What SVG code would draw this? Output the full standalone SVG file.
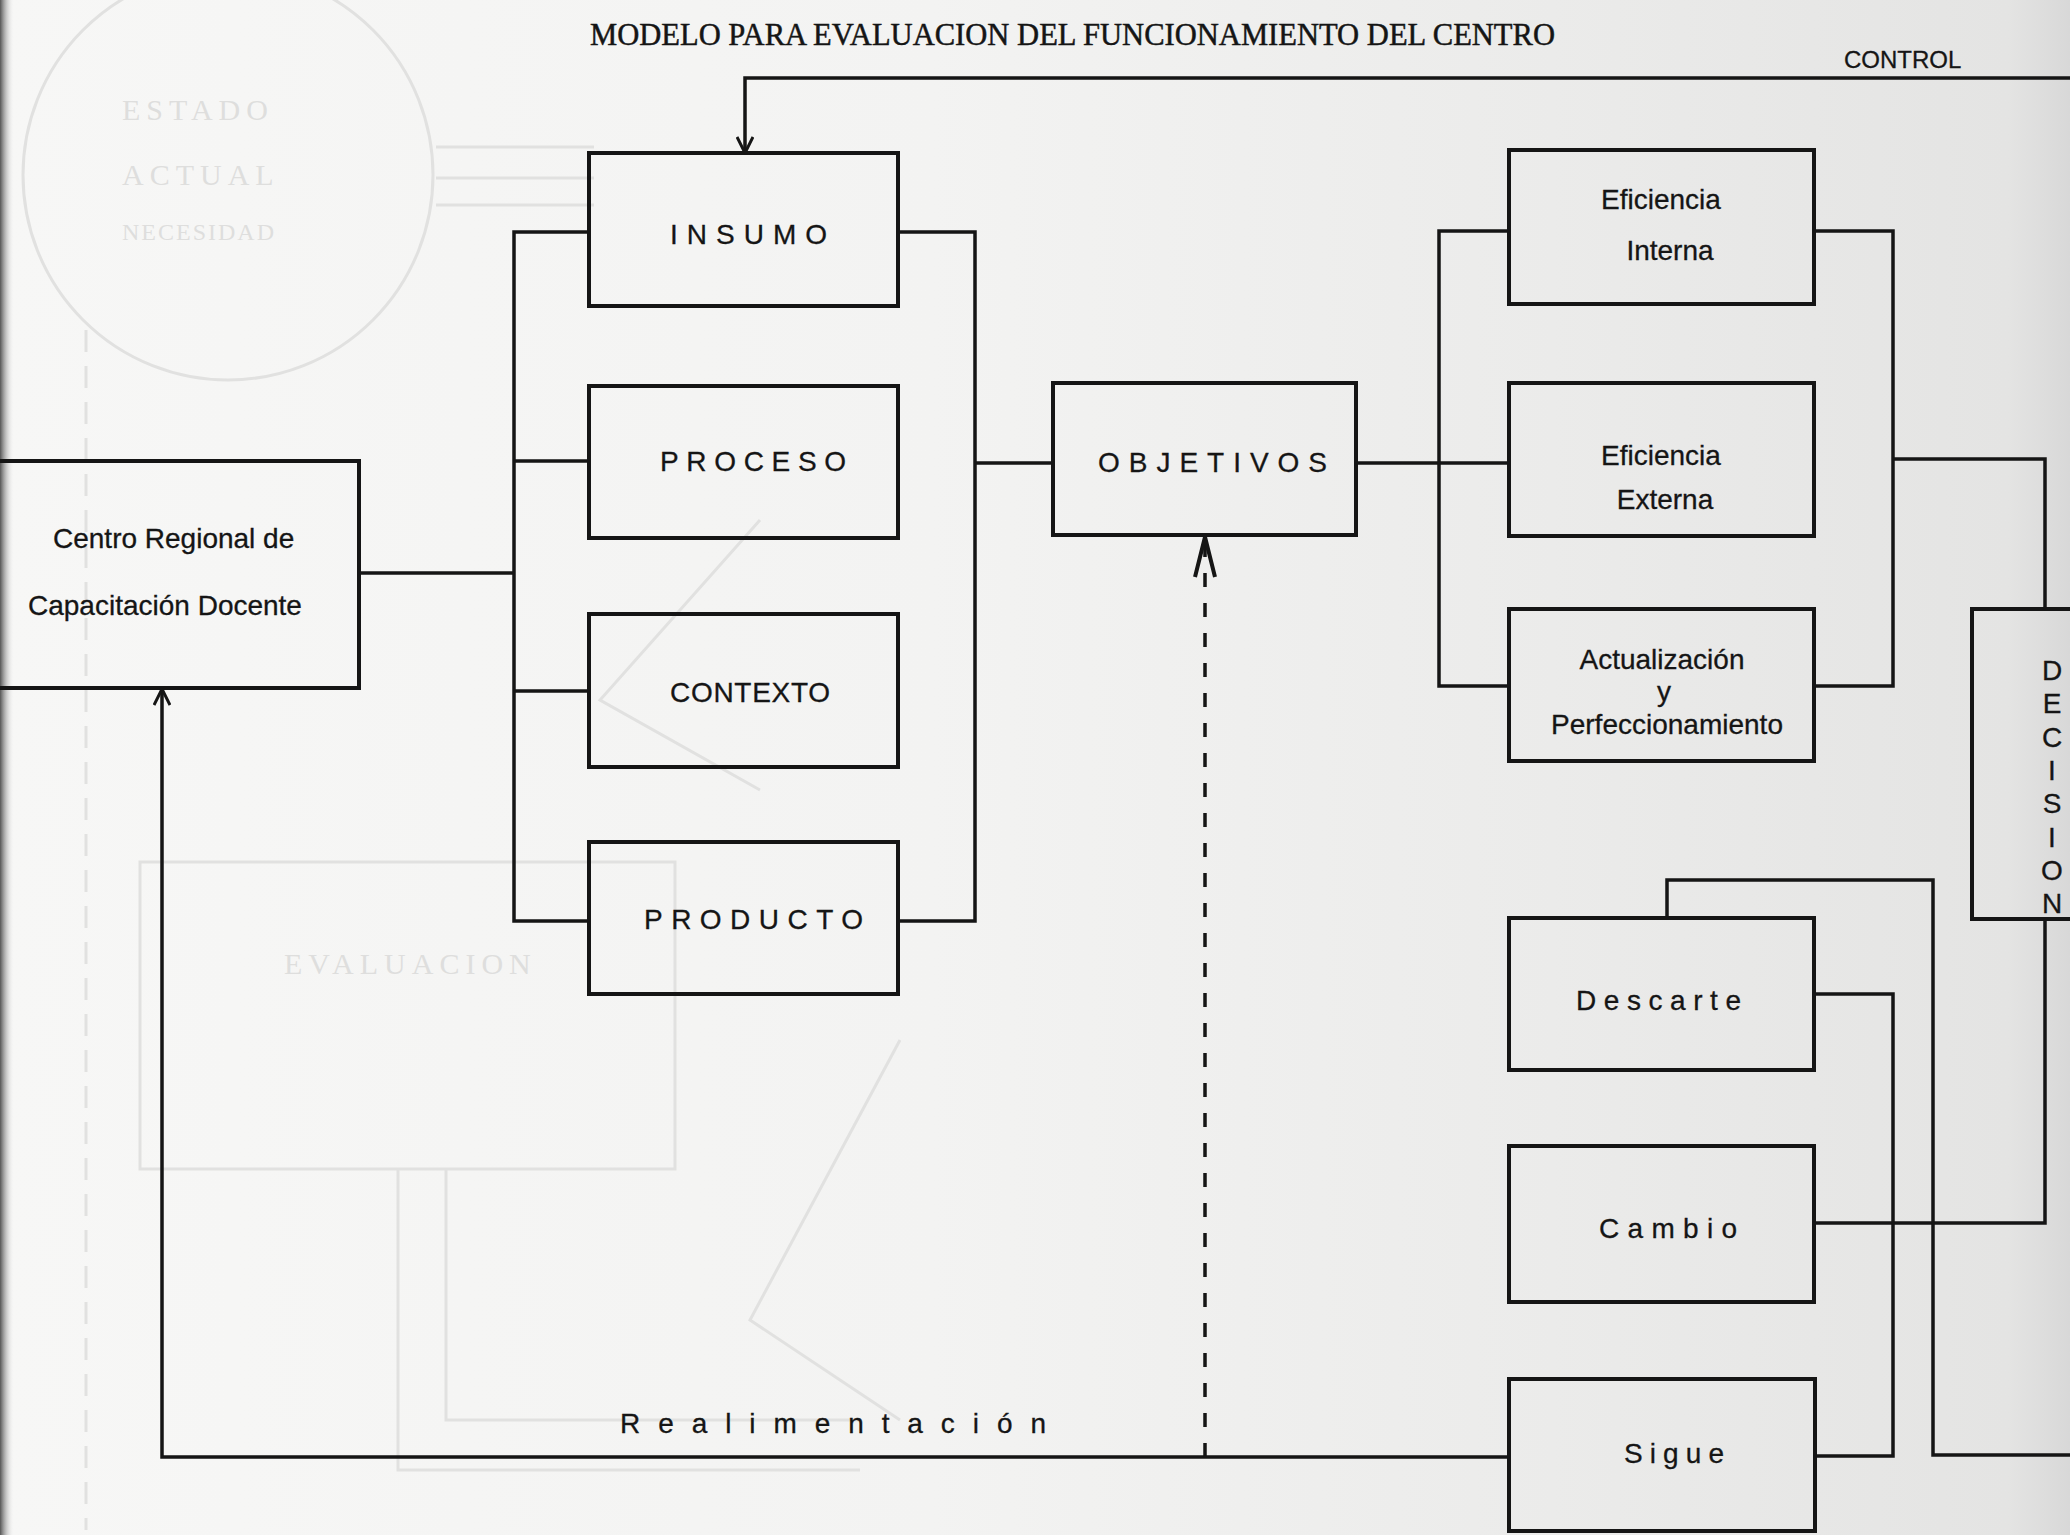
<svg xmlns="http://www.w3.org/2000/svg" width="2070" height="1535" viewBox="0 0 2070 1535">
<defs>
  <linearGradient id="paper" x1="0" y1="0" x2="1" y2="0">
    <stop offset="0" stop-color="#f7f7f6"/>
    <stop offset="0.45" stop-color="#f3f3f2"/>
    <stop offset="0.75" stop-color="#ebebea"/>
    <stop offset="0.97" stop-color="#e4e4e3"/>
    <stop offset="1" stop-color="#d8d8d8"/>
  </linearGradient>
  <linearGradient id="spine" x1="0" y1="0" x2="1" y2="0">
    <stop offset="0" stop-color="#555"/>
    <stop offset="1" stop-color="#f4f4f4" stop-opacity="0"/>
  </linearGradient>
  <marker id="arrS" viewBox="0 0 18 18" refX="17" refY="9" markerWidth="18" markerHeight="18" markerUnits="userSpaceOnUse" orient="auto">
    <path d="M1,1 L17,9 L1,17" fill="none" stroke="#151515" stroke-width="3" stroke-dasharray="none"/>
  </marker>
  <marker id="arrL" viewBox="0 0 42 24" refX="41" refY="12" markerWidth="42" markerHeight="24" markerUnits="userSpaceOnUse" orient="auto">
    <path d="M1,2 L41,12 L1,22" fill="none" stroke="#151515" stroke-width="4" stroke-dasharray="none"/>
  </marker>
</defs>
<style>
  .box { fill: none; stroke: #151515; stroke-width: 4; }
  .ln { fill: none; stroke: #151515; stroke-width: 3.5; }
  .t { font-family: "Liberation Sans", Arial, sans-serif; font-size: 28px; fill: #151515; stroke: #151515; stroke-width: 0.3; }
  .c { text-anchor: middle; }
  .ghost { fill: none; stroke: #e1e1e0; stroke-width: 3; }
  .gt { font-family: "Liberation Serif", "Times New Roman", serif; font-size: 30px; fill: #dededd; letter-spacing: 6px; }
</style>

<rect x="0" y="0" width="2070" height="1535" fill="url(#paper)"/>
<rect x="0" y="0" width="14" height="1535" fill="url(#spine)"/>

<g id="ghost">
  <circle class="ghost" cx="228" cy="175" r="205"/>
  <text class="gt" x="122" y="120">ESTADO</text>
  <text class="gt" x="122" y="185">ACTUAL</text>
  <text class="gt" x="122" y="240" style="font-size:24px;letter-spacing:2px">NECESIDAD</text>
  <path class="ghost" d="M436,147 H594 M436,178 H594 M436,205 H594"/>
  <rect class="ghost" x="140" y="862" width="535" height="307"/>
  <text class="gt" x="284" y="974">EVALUACION</text>
  <path class="ghost" d="M398,1169 V1470 H860 M446,1169 V1420 H860"/>
  <path class="ghost" d="M86,330 V1530" stroke-dasharray="22 14"/>
  <path class="ghost" d="M760,520 L600,700 L760,790 M900,1040 L750,1320 L900,1420" stroke="#e6e6e5"/>
</g>

<g id="title">
  <text x="590" y="45" font-family="Liberation Serif, 'Times New Roman', serif" font-size="32" fill="#151515" stroke="#151515" stroke-width="0.5" textLength="965" lengthAdjust="spacingAndGlyphs">MODELO PARA EVALUACION DEL FUNCIONAMIENTO DEL CENTRO</text>
</g>

<g id="connectors">
  <path class="ln" d="M2070,78 H745 V153" marker-end="url(#arrS)"/>
  <text class="t" x="1844" y="68" style="font-size:24px">CONTROL</text>
  <path class="ln" d="M359,573 H514"/>
  <path class="ln" d="M589,232 H514 V921 H589 M514,461 H589 M514,691 H589"/>
  <path class="ln" d="M898,232 H975 V921 H898 M975,463 H1053"/>
  <path class="ln" d="M1356,463 H1509"/>
  <path class="ln" d="M1509,231 H1439 V686 H1509"/>
  <path class="ln" d="M1814,231 H1893 V686 H1814"/>
  <path class="ln" d="M1893,459 H2045 V609"/>
  <path class="ln" d="M2045,919 V1223 H1814"/>
  <path class="ln" d="M1667,918 V880 H1933 V1455 H2070"/>
  <path class="ln" d="M1814,994 H1893 V1456 H1814"/>
  <path class="ln" d="M1509,1457 H162 V689" marker-end="url(#arrS)"/>
  <path class="ln" d="M1205,1457 V537" stroke-dasharray="14 16" marker-end="url(#arrL)"/>
  <text class="t" x="620" y="1433" textLength="426" lengthAdjust="spacing">Realimentación</text>
</g>

<g id="centro">
  <path class="box" d="M0,461 H359 V688 H0"/>
  <text class="t" x="53" y="548">Centro Regional de</text>
  <text class="t" x="28" y="615">Capacitación Docente</text>
</g>

<g id="insumo">
  <rect class="box" x="589" y="153" width="309" height="153"/>
  <text class="t" x="670" y="244" textLength="157" lengthAdjust="spacing">INSUMO</text>
</g>
<g id="proceso">
  <rect class="box" x="589" y="386" width="309" height="152"/>
  <text class="t" x="660" y="471" textLength="186" lengthAdjust="spacing">PROCESO</text>
</g>
<g id="contexto">
  <rect class="box" x="589" y="614" width="309" height="153"/>
  <text class="t" x="670" y="702" textLength="160" lengthAdjust="spacing">CONTEXTO</text>
</g>
<g id="producto">
  <rect class="box" x="589" y="842" width="309" height="152"/>
  <text class="t" x="644" y="929" textLength="219" lengthAdjust="spacing">PRODUCTO</text>
</g>

<g id="objetivos">
  <rect class="box" x="1053" y="383" width="303" height="152"/>
  <text class="t" x="1098" y="472" textLength="229" lengthAdjust="spacing">OBJETIVOS</text>
</g>

<g id="eficiencia-interna">
  <rect class="box" x="1509" y="150" width="305" height="154"/>
  <text class="t c" x="1661" y="209">Eficiencia</text>
  <text class="t c" x="1670" y="260">Interna</text>
</g>
<g id="eficiencia-externa">
  <rect class="box" x="1509" y="383" width="305" height="153"/>
  <text class="t c" x="1661" y="465">Eficiencia</text>
  <text class="t c" x="1665" y="509">Externa</text>
</g>
<g id="actualizacion">
  <rect class="box" x="1509" y="609" width="305" height="152"/>
  <text class="t c" x="1662" y="669">Actualización</text>
  <text class="t c" x="1664" y="701">y</text>
  <text class="t c" x="1667" y="734">Perfeccionamiento</text>
</g>

<g id="decision">
  <rect class="box" x="1972" y="609" width="130" height="310"/>
  <text class="t c" x="2052" y="680">D</text>
  <text class="t c" x="2052" y="713">E</text>
  <text class="t c" x="2052" y="747">C</text>
  <text class="t c" x="2052" y="780">I</text>
  <text class="t c" x="2052" y="813">S</text>
  <text class="t c" x="2052" y="847">I</text>
  <text class="t c" x="2052" y="880">O</text>
  <text class="t c" x="2052" y="913">N</text>
</g>

<g id="descarte">
  <rect class="box" x="1509" y="918" width="305" height="152"/>
  <text class="t" x="1576" y="1010" textLength="165" lengthAdjust="spacing">Descarte</text>
</g>
<g id="cambio">
  <rect class="box" x="1509" y="1146" width="305" height="156"/>
  <text class="t" x="1599" y="1238" textLength="138" lengthAdjust="spacing">Cambio</text>
</g>
<g id="sigue">
  <rect class="box" x="1509" y="1379" width="306" height="152"/>
  <text class="t" x="1624" y="1463" textLength="100" lengthAdjust="spacing">Sigue</text>
</g>
</svg>
